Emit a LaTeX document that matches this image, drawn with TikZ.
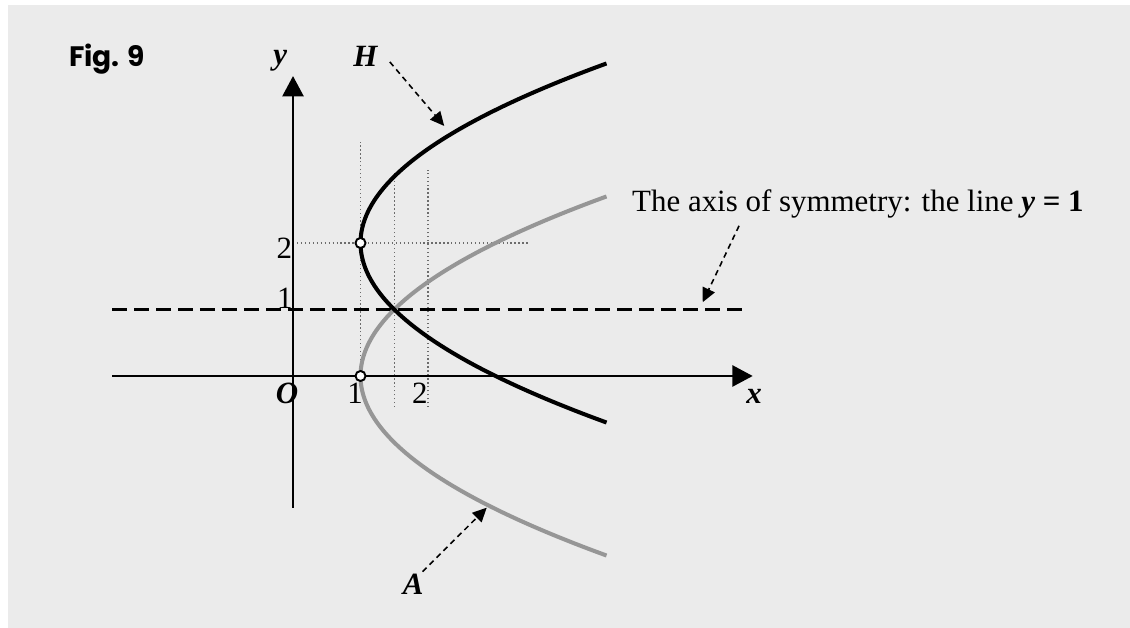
\documentclass[tikz,border=0pt]{standalone}
\usepackage{fontspec}
\setmainfont{Liberation Serif}
\newfontfamily\figfont{Poppins}
\usetikzlibrary{arrows.meta}

\newcommand*{\xmin}{-2.68}
\newcommand*{\xmax}{6.81}
\newcommand*{\ymin}{-1.98}
\newcommand*{\ymax}{4.51}

\definecolor{paper}{RGB}{235,235,235}
\definecolor{shadeA}{RGB}{150,150,150}

\begin{document}
\begin{tikzpicture}[x=1.35cm,y=1.33cm,
	font=\fontsize{17.6}{21}\selectfont,
	guide/.style={gray!85!black,line width=0.75pt,dash pattern=on 0.75pt off 1.5pt},
	pointer/.style={line width=0.9pt,dash pattern=on 3.2pt off 2.4pt,-{Triangle[length=8pt,width=7.5pt]}},
	axis/.style={line width=1.1pt,-{Triangle[length=11.5pt,width=12pt]}},
	hole/.style={circle,draw,fill=white,line width=1.1pt,inner sep=0pt,minimum size=0.2cm},
	lbl/.style={anchor=base}]

	\useasboundingbox (-4.341,-3.789) rectangle (12.4,5.654);
	\fill[paper] (-4.222,-3.789) rectangle (12.4,5.579);

	% guides
	\draw[guide] (0,2) -- (3.51,2);
	\draw[guide] (1,0) -- (1,3.52);
	\draw[guide] (1.5,-0.47) -- (1.5,3.05);
	\draw[guide] (2,-0.47) -- (2,3.1);

	% axis of symmetry
	\draw[line width=1.3pt,dash pattern=on 8.5pt off 4pt] (\xmin,1) -- (6.7,1);

	% axes
	\draw[axis] (\xmin,0) -- (\xmax,0);
	\draw[axis] (0,\ymin) -- (0,\ymax);

	\draw[shadeA,line width=2.3pt,domain=-2.7:2.7,smooth,samples=60] plot ({1+\x*\x/2},\x);
	\draw[line width=2.3pt,domain=-0.7:4.7,smooth,samples=60] plot ({1+(\x-2)*(\x-2)/2},\x);

	\node[hole] (vH) at (1,2) {};
	\node[hole] (vA) at (1,0) {};

	\node[lbl] (fig) at (-2.756,4.65) {\fontsize{16}{19}\selectfont\figfont\bfseries Fig. 9};
	\node[lbl] (ylab) at (-0.19,4.68) {\textbf{\textit{y}}};
	\node[lbl] (xlab) at (6.83,-0.41) {\textbf{\textit{x}}};
	\node[lbl] (O) at (-0.09,-0.41) {\textbf{\textit{O}}};
	\node[lbl] (x1) at (0.92,-0.41) {1};
	\node[lbl] (x2) at (1.88,-0.41) {2};
	\node[lbl] (y1) at (-0.12,1.02) {1};
	\node[lbl] (y2) at (-0.13,1.76) {2};
	\node[lbl] (H) at (1.08,4.65) {\textbf{\textit{H}}};
	\node[lbl] (A) at (1.78,-3.29) {\textbf{\textit{A}}};
	\node[anchor=base west,inner sep=0pt] (sym) at (5.02,2.47) {The axis of symmetry: the line \textbf{\textit{y} = 1}};

	\coordinate (Hto) at (2.24,3.76);
	\coordinate (Ato) at (2.87,-1.98);
	\coordinate (symto) at (6.07,1.11);

	\draw[pointer] ([xshift=3pt,yshift=-3pt]H.east) -- (Hto);
	\draw[pointer] ([xshift=-4pt,yshift=-2pt]A.north east) -- (Ato);
	\draw[pointer] ([xshift=61pt,yshift=-4pt]sym.south west) -- (symto);

\end{tikzpicture}
\end{document}
